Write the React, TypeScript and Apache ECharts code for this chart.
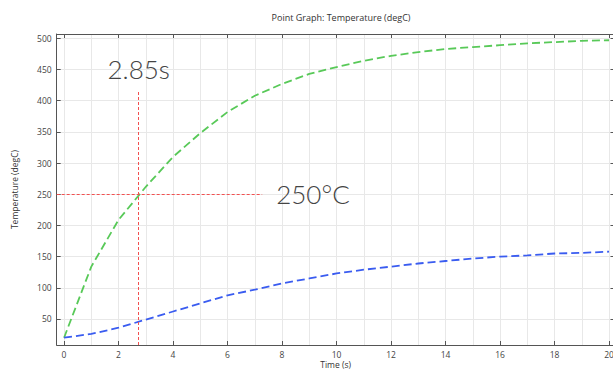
import React, { useEffect, useRef } from "react";
import * as echarts from "echarts";

const TIMES = [0, 1, 2, 3, 4, 5, 6, 7, 8, 9, 10, 11, 12, 13, 14, 15, 16, 17, 18, 19, 20];
const GREEN_TEMPS = [20, 134, 209, 262, 310, 348, 382, 408, 427, 443, 454, 464, 472, 478, 483, 486, 489, 492, 494, 496, 497];
const BLUE_TEMPS = [20, 26, 36, 49, 62, 75, 88, 97, 107, 115, 123, 129, 134, 139, 143, 147, 150, 152, 155, 156, 158];

const X_MIN = -0.27;
const X_MAX = 20.2;
const Y_MIN = 8.3;
const Y_MAX = 507;

const CROSS_TIME = 2.74;
const CROSS_TEMP = 250;
const VLINE_TOP = 417;
const HLINE_END = 7.27;
const TIME_LABEL = "2.85s";
const TEMP_LABEL = "250°C";

const TITLE = "Point Graph: Temperature (degC)";
const X_NAME = "Time (s)";
const Y_NAME = "Temperature (degC)";

export default function App() {
  const ref = useRef<HTMLDivElement>(null);
  useEffect(() => {
    if (!ref.current) return;
    const chart = echarts.init(ref.current, undefined, { renderer: "svg" });
    const font = "'Open Sans', 'Noto Sans', sans-serif";
    const frameColor = "#555";
    const redLine = { color: "#f25050", width: 1, type: [3, 2] };
    const axisCommon = {
      axisLine: { show: true, onZero: false, lineStyle: { color: frameColor, width: 1 } },
      axisTick: { show: true, inside: true, length: 4, lineStyle: { color: frameColor } },
    };
    chart.setOption({
      animation: false,
      backgroundColor: "#fff",
      title: {
        text: TITLE,
        left: 336,
        top: 7.5,
        textAlign: "center",
        textStyle: { fontFamily: font, fontSize: 9, fontWeight: "normal", color: "#333" },
      },
      grid: { left: 56.7, top: 34, width: 557.8, height: 311, outerBoundsMode: "none", containLabel: false },
      xAxis: [
        {
          type: "value",
          min: X_MIN,
          max: X_MAX,
          splitNumber: 10,
          position: "bottom",
          name: X_NAME,
          nameLocation: "middle",
          nameGap: 15,
          nameMoveOverlap: false,
          nameTextStyle: { fontFamily: font, fontSize: 8.5, lineHeight: 9, color: "#333" },
          ...axisCommon,
          axisLabel: {
            showMinLabel: false,
            showMaxLabel: false,
            fontFamily: font,
            fontSize: 8.5,
            lineHeight: 9,
            color: "#444",
            margin: 5,
          },
          splitLine: { show: true, lineStyle: { color: "#e8e8e8", width: 1 } },
          minorTick: { show: false, splitNumber: 2 },
          minorSplitLine: { show: true, lineStyle: { color: "#e8e8e8", width: 1 } },
        },
        {
          type: "value",
          min: X_MIN,
          max: X_MAX,
          splitNumber: 10,
          position: "top",
          ...axisCommon,
          axisLabel: { show: false },
          splitLine: { show: false },
        },
      ],
      yAxis: [
        {
          type: "value",
          min: Y_MIN,
          max: Y_MAX,
          splitNumber: 10,
          position: "left",
          name: Y_NAME,
          nameLocation: "middle",
          nameGap: 38,
          nameMoveOverlap: false,
          nameTextStyle: { fontFamily: font, fontSize: 8.5, color: "#333" },
          ...axisCommon,
          axisLabel: {
            showMinLabel: false,
            showMaxLabel: false,
            fontFamily: font,
            fontSize: 8.5,
            color: "#444",
            margin: 5,
          },
          splitLine: { show: true, lineStyle: { color: "#e8e8e8", width: 1 } },
        },
        {
          type: "value",
          min: Y_MIN,
          max: Y_MAX,
          splitNumber: 10,
          position: "right",
          ...axisCommon,
          axisLabel: { show: false },
          splitLine: { show: false },
        },
      ],
      series: [
        {
          type: "line",
          data: TIMES.map((t, i) => [t, GREEN_TEMPS[i]]),
          showSymbol: false,
          symbol: "none",
          lineStyle: { color: "#58c958", width: 1.8, type: [8, 4] },
          z: 3,
          markLine: {
            silent: true,
            symbol: ["none", "none"],
            lineStyle: redLine,
            label: {
              show: true,
              position: "end",
              fontFamily: "Lato, 'Open Sans', sans-serif",
              fontWeight: 300,
              fontSize: 26,
              color: "#444",
            },
            data: [
              [
                {
                  coord: [CROSS_TIME, Y_MIN],
                  lineStyle: redLine,
                  label: { formatter: TIME_LABEL, distance: 8 },
                },
                { coord: [CROSS_TIME, VLINE_TOP] },
              ],
              [
                {
                  coord: [X_MIN, CROSS_TEMP],
                  lineStyle: redLine,
                  label: { formatter: TEMP_LABEL, distance: 14 },
                },
                { coord: [HLINE_END, CROSS_TEMP] },
              ],
            ],
          },
        },
        {
          type: "line",
          data: TIMES.map((t, i) => [t, BLUE_TEMPS[i]]),
          showSymbol: false,
          symbol: "none",
          lineStyle: { color: "#3a5cf0", width: 1.8, type: [8, 4] },
          z: 3,
        },
      ],
    });
    return () => chart.dispose();
  }, []);
  return (
    <div
      ref={ref}
      style={{ position: "fixed", left: 0, top: 0, width: 613, height: 371 }}
    />
  );
}
